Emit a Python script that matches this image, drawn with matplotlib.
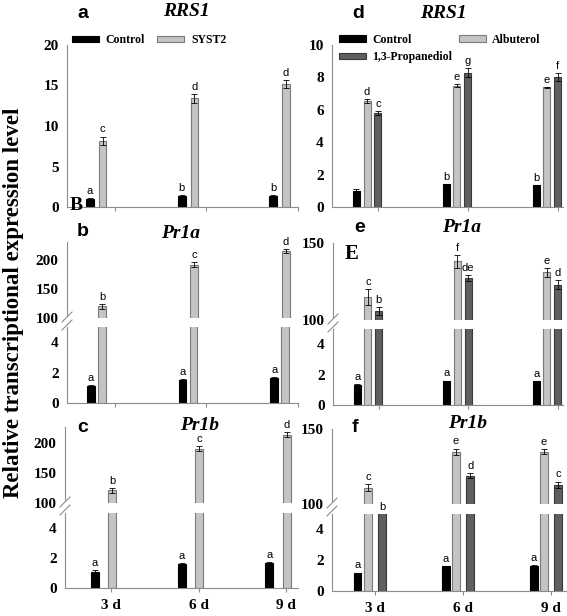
import matplotlib
matplotlib.use("Agg")
import matplotlib.pyplot as plt
from matplotlib.lines import Line2D
from matplotlib.patches import Polygon

# ---------------------------------------------------------------------------
# Data
# ---------------------------------------------------------------------------
days = ["3 d", "6 d", "9 d"]

# a  RRS1 (Control vs SYST2)
a_control = [1.0, 1.4, 1.4]
a_control_err = [0.08, 0.05, 0.05]
a_syst2 = [8.2, 13.4, 15.2]
a_syst2_err = [0.5, 0.6, 0.5]
a_letters_control = ["a", "b", "b"]
a_letters_syst2 = ["c", "d", "d"]

# b  Pr1a (Control vs SYST2)
b_control = [1.1, 1.5, 1.65]
b_control_err = [0.1, 0.05, 0.05]
b_syst2 = [120, 191, 215]
b_syst2_err = [4, 4, 3]
b_letters_control = ["a", "a", "a"]
b_letters_syst2 = ["b", "c", "d"]

# c  Pr1b (Control vs SYST2)
c_control = [1.1, 1.6, 1.7]
c_control_err = [0.1, 0.05, 0.05]
c_syst2 = [121, 191, 214]
c_syst2_err = [4, 4, 4]
c_letters_control = ["a", "a", "a"]
c_letters_syst2 = ["b", "c", "d"]

# d  RRS1 (Control, Albuterol, 1,3-Propanediol)
d_control = [1.0, 1.4, 1.35]
d_control_err = [0.1, 0.03, 0.03]
d_albuterol = [6.55, 7.5, 7.4]
d_albuterol_err = [0.1, 0.1, 0.03]
d_propanediol = [5.8, 8.3, 8.0]
d_propanediol_err = [0.15, 0.3, 0.25]
d_letters_control = ["", "b", "b"]
d_letters_albuterol = ["d", "e", "e"]
d_letters_propanediol = ["c", "g", "f"]

# e  Pr1a
e_control = [1.3, 1.57, 1.55]
e_control_err = [0.05, 0.04, 0.04]
e_albuterol = [115, 138, 131]
e_albuterol_err = [5, 4, 3]
e_propanediol = [106, 127, 123]
e_propanediol_err = [2.5, 2, 3]
e_letters_control = ["a", "a", "a"]
e_letters_albuterol = ["c", "f", "e"]
e_letters_propanediol = ["b", "de", "d"]

# f  Pr1b
f_control = [1.15, 1.6, 1.65]
f_control_err = [0.05, 0.05, 0.05]
f_albuterol = [111, 135, 135]
f_albuterol_err = [2.5, 2, 1.5]
f_propanediol = [80, 119, 113]
f_propanediol_err = [0, 1.5, 2]
f_letters_control = ["a", "a", "a"]
f_letters_albuterol = ["c", "e", "e"]
f_letters_propanediol = ["b", "d", "c"]

# ---------------------------------------------------------------------------
# Style
# ---------------------------------------------------------------------------
W, H = 567, 616
SERIF = "Liberation Serif"
SANS = "Liberation Sans"
C_CONTROL = ("#000000", "#000000")
C_LIGHT = ("#c4c4c4", "#7a7a7a")
C_DARK = ("#5f5f5f", "#3a3a3a")
AXIS_GRAY = "#8c8c8c"

fig = plt.figure(figsize=(W / 100, H / 100), dpi=100)


def px_axes(left, top, right, bottom):
    return fig.add_axes([left / W, 1 - bottom / H, (right - left) / W, (bottom - top) / H])


def fig_text(x, y, s, **kw):
    fig.text(x / W, 1 - y / H, s, **kw)


def style_axes(ax, ylim, yticks, xlim, show_bottom=True, xlabels=False):
    ax.set_ylim(*ylim)
    ax.set_xlim(*xlim)
    ax.set_yticks(yticks)
    ax.set_yticklabels([str(t) for t in yticks], fontfamily=SERIF, fontweight="bold", fontsize=11)
    for s in ["right", "top"]:
        ax.spines[s].set_visible(False)
    ax.spines["left"].set_color(AXIS_GRAY)
    ax.spines["bottom"].set_color(AXIS_GRAY)
    ax.spines["bottom"].set_visible(show_bottom)
    ax.tick_params(axis="y", length=0, pad=6)
    if show_bottom:
        ax.set_xticks(range(len(days)))
        ax.tick_params(axis="x", length=3, color=AXIS_GRAY, pad=5)
        if xlabels:
            ax.set_xticklabels(days, fontfamily=SERIF, fontweight="bold", fontsize=11)
        else:
            ax.set_xticklabels([])
    else:
        ax.set_xticks([])
    ax.patch.set_alpha(0)


def draw_series(ax, offset, width, values, errs, colors, letters):
    x = [i + offset for i in range(len(values))]
    bars = ax.bar(x, values, width, color=colors[0], edgecolor=colors[1], linewidth=0.8)
    ax.errorbar(x, values, yerr=errs, fmt="none", ecolor="black", elinewidth=0.6,
                capsize=2.2, capthick=0.6)
    top = ax.get_ylim()[1]
    for xi, v, e, lab in zip(x, values, errs, letters):
        if not lab:
            continue
        y = min(v + e, top)
        ax.annotate(lab, (xi, y), xytext=(0, 1.5), textcoords="offset points",
                    ha="center", va="bottom", fontsize=8, fontfamily=SANS, annotation_clip=False)
    return bars


def broken_mark(x, y):
    # white gap with two diagonal strokes over the y axis
    pts = [(x - 5, y + 6), (x + 5, y - 4), (x + 5, y + 4), (x - 5, y + 14)]
    poly = Polygon([(px / W, 1 - py / H) for px, py in pts], closed=True,
                   transform=fig.transFigure, facecolor="white", edgecolor="none", zorder=5)
    fig.add_artist(poly)
    for dy in (0, 8):
        fig.add_artist(Line2D([(x - 5) / W, (x + 5) / W],
                              [1 - (y + 6 + dy) / H, 1 - (y - 4 + dy) / H],
                              color=AXIS_GRAY, lw=0.8, zorder=6))


# ---------------------------------------------------------------------------
# Panel a
# ---------------------------------------------------------------------------
xlim_left = (-0.52, 1.99)
ax_a = px_axes(67, 45, 298, 207)
style_axes(ax_a, (0, 20), [0, 5, 10, 15, 20], xlim_left)
hc = draw_series(ax_a, -0.27, 0.088, a_control, a_control_err, C_CONTROL, a_letters_control)
hs = draw_series(ax_a, -0.13, 0.08, a_syst2, a_syst2_err, C_LIGHT, a_letters_syst2)
ax_a.legend([hc, hs], ["Control", "SYST2"], ncol=2, frameon=False, loc="center left",
            bbox_to_anchor=(0.02, 1.03), prop={"family": SERIF, "weight": "bold", "size": 8.5},
            handlelength=2.3, handleheight=0.45, handletextpad=0.6, columnspacing=1.0,
            borderaxespad=0, borderpad=0)
fig_text(83, 13, "a", fontfamily=SANS, fontweight="bold", fontsize=14, ha="center", va="center")
fig_text(186, 12, "RRS1", fontfamily=SERIF, fontweight="bold", fontstyle="italic",
         fontsize=14, ha="center", va="center")


# ---------------------------------------------------------------------------
# Panels b and c (broken axes, two series)
# ---------------------------------------------------------------------------
def two_series_broken(up_box, low_box, up_ylim, xlim, offs, width, control, control_err,
                      treat, treat_err, l_control, l_treat, xlabels):
    ax_up = px_axes(*up_box)
    ax_lo = px_axes(*low_box)
    style_axes(ax_up, up_ylim, [100, 150, 200], xlim, show_bottom=False)
    style_axes(ax_lo, (0, 5), [0, 2, 4], xlim, xlabels=xlabels)
    draw_series(ax_lo, offs[0], width, control, control_err, C_CONTROL, l_control)
    draw_series(ax_lo, offs[1], width, treat, treat_err, C_LIGHT, ["", "", ""])
    draw_series(ax_up, offs[1], width, treat, treat_err, C_LIGHT, l_treat)
    return ax_up, ax_lo


two_series_broken((67, 242, 298, 318), (67, 327, 298, 403), (100, 230), xlim_left,
                  (-0.26, -0.14), 0.085, b_control, b_control_err, b_syst2, b_syst2_err,
                  b_letters_control, b_letters_syst2, False)
broken_mark(67, 316)
fig_text(83, 231, "b", fontfamily=SANS, fontweight="bold", fontsize=14, ha="center", va="center")
fig_text(181, 233, "Pr1a", fontfamily=SERIF, fontweight="bold", fontstyle="italic",
         fontsize=14, ha="center", va="center")

two_series_broken((65, 427, 298, 503), (65, 513, 298, 588), (100, 227), (-0.53, 2.14),
                  (-0.19, 0.01), 0.09, c_control, c_control_err, c_syst2, c_syst2_err,
                  c_letters_control, c_letters_syst2, True)
broken_mark(65, 501)
fig_text(83, 427, "c", fontfamily=SANS, fontweight="bold", fontsize=14, ha="center", va="center")
fig_text(200, 426, "Pr1b", fontfamily=SERIF, fontweight="bold", fontstyle="italic",
         fontsize=14, ha="center", va="center")

# ---------------------------------------------------------------------------
# Panel d
# ---------------------------------------------------------------------------
xlim_right = (-0.51, 2.06)
ax_d = px_axes(332, 45, 563, 207)
style_axes(ax_d, (0, 10), [0, 2, 4, 6, 8, 10], xlim_right)
h1 = draw_series(ax_d, -0.24, 0.078, d_control, d_control_err, C_CONTROL, d_letters_control)
h2 = draw_series(ax_d, -0.12, 0.078, d_albuterol, d_albuterol_err, C_LIGHT, d_letters_albuterol)
h3 = draw_series(ax_d, 0.0, 0.078, d_propanediol, d_propanediol_err, C_DARK, d_letters_propanediol)
ax_d.legend([h1, h3, h2], ["Control", "1,3-Propanediol", "Albuterol"], ncol=2, frameon=False,
            loc="upper left", bbox_to_anchor=(0.03, 1.07),
            prop={"family": SERIF, "weight": "bold", "size": 8.5},
            handlelength=2.3, handleheight=0.45, handletextpad=0.5, columnspacing=0.6,
            labelspacing=0.45, borderaxespad=0, borderpad=0)
fig_text(358, 13, "d", fontfamily=SANS, fontweight="bold", fontsize=14, ha="center", va="center")
fig_text(443, 13, "RRS1", fontfamily=SERIF, fontweight="bold", fontstyle="italic",
         fontsize=14, ha="center", va="center")


# ---------------------------------------------------------------------------
# Panels e and f (broken axes, three series)
# ---------------------------------------------------------------------------
def three_series_broken(up_box, low_box, xlim, offs, width, control, control_err, alb, alb_err,
                        prop, prop_err, l_control, l_alb, l_prop, xlabels):
    ax_up = px_axes(*up_box)
    ax_lo = px_axes(*low_box)
    style_axes(ax_up, (100, 150), [100, 150], xlim, show_bottom=False)
    style_axes(ax_lo, (0, 5), [0, 2, 4], xlim, xlabels=xlabels)
    draw_series(ax_lo, offs[0], width, control, control_err, C_CONTROL, l_control)
    draw_series(ax_lo, offs[1], width, alb, alb_err, C_LIGHT, ["", "", ""])
    draw_series(ax_lo, offs[2], width, prop, prop_err, C_DARK,
                [lab if v < 100 else "" for v, lab in zip(prop, l_prop)])
    draw_series(ax_up, offs[1], width, alb, alb_err, C_LIGHT, l_alb)
    draw_series(ax_up, offs[2], width, prop, prop_err, C_DARK,
                [lab if v >= 100 else "" for v, lab in zip(prop, l_prop)])
    return ax_up, ax_lo


three_series_broken((333, 243, 563, 320), (333, 329, 563, 405), xlim_right,
                    (-0.24, -0.12, 0.0), 0.078, e_control, e_control_err,
                    e_albuterol, e_albuterol_err, e_propanediol, e_propanediol_err,
                    e_letters_control, e_letters_albuterol, e_letters_propanediol, False)
broken_mark(333, 318)
fig_text(360, 228, "e", fontfamily=SANS, fontweight="bold", fontsize=14, ha="center", va="center")
fig_text(462, 228, "Pr1a", fontfamily=SERIF, fontweight="bold", fontstyle="italic",
         fontsize=14, ha="center", va="center")
fig_text(352, 254, "E", fontfamily=SERIF, fontweight="bold", fontsize=15, ha="center", va="center")

three_series_broken((332, 429, 567, 504), (332, 514, 567, 591), (-0.49, 2.18),
                    (-0.2, -0.08, 0.08), 0.09, f_control, f_control_err,
                    f_albuterol, f_albuterol_err, f_propanediol, f_propanediol_err,
                    f_letters_control, f_letters_albuterol, f_letters_propanediol, True)
broken_mark(332, 502)
fig_text(355, 427, "f", fontfamily=SANS, fontweight="bold", fontsize=14, ha="center", va="center")
fig_text(468, 424, "Pr1b", fontfamily=SERIF, fontweight="bold", fontstyle="italic",
         fontsize=14, ha="center", va="center")

# stray panel mark from the original composite
fig_text(76, 206, "B", fontfamily=SERIF, fontweight="bold", fontsize=14, ha="center", va="center")

# shared y label
fig_text(14, 303, "Relative transcriptional expression level", fontfamily=SERIF,
         fontweight="bold", fontsize=16.5, rotation=90, ha="center", va="center")

fig.savefig("out.png", dpi=100)
